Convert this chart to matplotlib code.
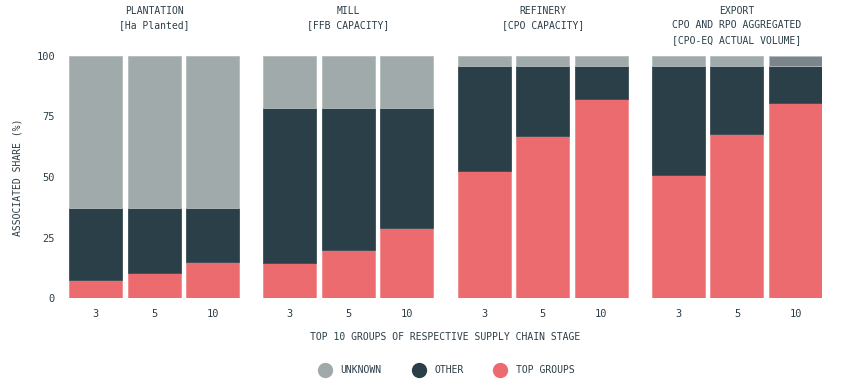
import matplotlib
matplotlib.use("Agg")
import matplotlib.pyplot as plt
from matplotlib.lines import Line2D
from matplotlib.transforms import blended_transform_factory

stages = ["PLANTATION\n[Ha Planted]", "MILL\n[FFB CAPACITY]", "REFINERY\n[CPO CAPACITY]",
          "EXPORT\nCPO AND RPO AGGREGATED\n[CPO-EQ ACTUAL VOLUME]"]
groups = ["3", "5", "10"]
top_groups = [[7.4, 10.3, 14.9], [14.5, 19.8, 28.9], [52.5, 66.9, 82.2], [50.8, 67.8, 80.6]]
other_total = [[37.2, 37.2, 37.2], [78.5, 78.5, 78.5], [95.9, 95.9, 95.9], [95.9, 95.9, 95.9]]

C_UNK = "#a0aaab"
C_UNK_DARK = "#7b868a"
C_OTH = "#2b3f48"
C_TOP = "#ec6b6e"
TXT = "#2b3d47"

plt.rcParams['font.family'] = ['DejaVu Sans Mono']
fig = plt.figure(figsize=(8.59, 3.89), dpi=100)
ax = fig.add_axes([69/859, 1-298/389, (822-69)/859, 242/389])
tr = blended_transform_factory(ax.transData, fig.transFigure)

step = 1.0
width = 0.906
group_off = 3.32
xs_all, labs_all = [], []
for i, st in enumerate(stages):
    xs = [i*group_off + j*step for j in range(len(groups))]
    tops = top_groups[i]
    others = [o - t for o, t in zip(other_total[i], tops)]
    unk = [100 - o for o in other_total[i]]
    ucol = [C_UNK, C_UNK, C_UNK_DARK] if i == 3 else [C_UNK]*3
    ax.bar(xs, tops, width=width, color=C_TOP, edgecolor="#f08a8c", linewidth=0.6, align='edge')
    ax.bar(xs, others, bottom=tops, width=width, color=C_OTH, edgecolor="#3a4d55", linewidth=0.6, align='edge')
    ax.bar(xs, unk, bottom=other_total[i], width=width, color=ucol, edgecolor="#b3bbbc", linewidth=0.6, align='edge')
    xs_all += [x + width/2 for x in xs]
    labs_all += groups
    cx = (xs[0] + xs[-1] + width) / 2
    ax.text(cx, 1 - 6/389, st, ha='center', va='top', fontsize=7, color=TXT,
            linespacing=1.55, transform=tr)

ax.set_xlim(0, 3*group_off + 2*step + width)
ax.set_ylim(0, 100)
ax.set_yticks([0, 25, 50, 75, 100])
ax.set_xticks(xs_all)
ax.set_xticklabels(labs_all)
ax.tick_params(length=0, labelsize=7.5, colors=TXT)
ax.tick_params(axis='y', pad=10)
ax.tick_params(axis='x', pad=8)
for s in ax.spines.values():
    s.set_visible(False)
ax.set_ylabel("ASSOCIATED SHARE (%)", fontsize=7, color=TXT, labelpad=10)
ax.set_xlabel("TOP 10 GROUPS OF RESPECTIVE SUPPLY CHAIN STAGE", fontsize=7, color=TXT, labelpad=9)

handles = [Line2D([0], [0], marker='o', linestyle='', markersize=10, markerfacecolor=c, markeredgecolor=c)
           for c in [C_UNK, C_OTH, C_TOP]]
leg = fig.legend(handles, ["UNKNOWN", "OTHER", "TOP GROUPS"], loc='center', bbox_to_anchor=(445/859, 1-370/389),
                 ncol=3, frameon=False, fontsize=7, handletextpad=0.6, columnspacing=2.8, labelcolor=TXT)

fig.savefig("out.png", dpi=100)
